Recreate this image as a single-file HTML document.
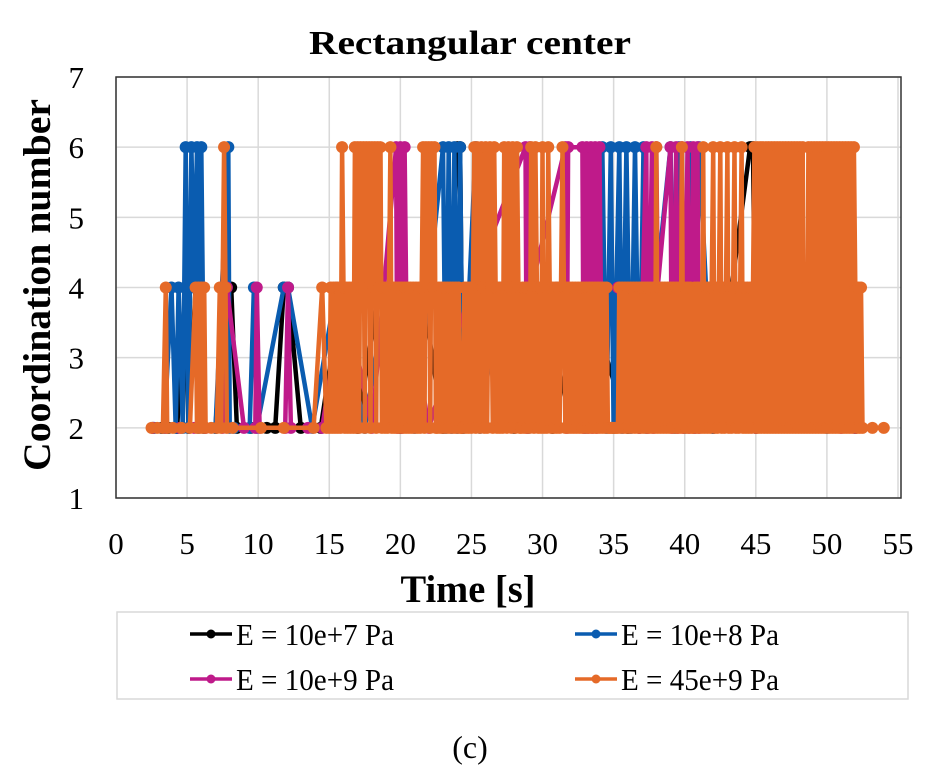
<!DOCTYPE html>
<html><head><meta charset="utf-8"><style>
html,body{margin:0;padding:0;background:#fff;}
svg{display:block;font-family:"Liberation Serif",serif;}
</style></head><body>
<svg id="chart" width="939" height="779" viewBox="0 0 939 779" xmlns="http://www.w3.org/2000/svg">
<text x="470" y="54" text-anchor="middle" font-size="34" font-weight="bold" textLength="322" lengthAdjust="spacingAndGlyphs">Rectangular center</text>
<g id="grid"></g>
<g id="series"></g>
<rect x="116" y="77" width="785" height="421" fill="none" stroke="#333" stroke-width="1.5"/>
<g id="ticks"></g>
<text transform="translate(50,285) rotate(-90)" text-anchor="middle" font-size="39" font-weight="bold" textLength="372" lengthAdjust="spacingAndGlyphs">Coordination number</text>
<text x="468" y="602" text-anchor="middle" font-size="39" font-weight="bold" textLength="135" lengthAdjust="spacingAndGlyphs">Time [s]</text>
<rect x="117" y="612" width="791" height="87" fill="#fff" stroke="#d9d9d9" stroke-width="1.5"/>
<g id="legend"></g>
<text x="470" y="758" text-anchor="middle" font-size="32">(c)</text>
</svg>
<script>
const xTicks = [0,5,10,15,20,25,30,35,40,45,50,55];
const yTicks = [1,2,3,4,5,6,7];
const seriesNames = ["E = 10e+7 Pa","E = 10e+8 Pa","E = 10e+9 Pa","E = 45e+9 Pa"];
const seriesColors = ["#000000","#0a5cb0","#bf1a8a","#e56a28"];
const blackData = [[2.6,2],[3.2,2],[3.7,2],[4.3,2],[4.9,4],[5.1,2],[5.6,4],[6.2,2],[7.0,2],[7.6,4],[8.1,4],[8.5,2],[9.5,2],[10.6,2],[11.2,2],[11.8,4],[12.1,4],[13.0,2],[14.4,2],[15.9,4],[17.0,2],[18.5,4],[20.0,2],[21.5,4],[23.0,2],[24.0,6],[24.2,6],[24.4,2],[26.0,4],[28.0,2],[30.5,4],[30.7,2],[33.0,4],[36.0,2],[39.0,4],[41.7,4],[42.0,2],[44.6,6],[44.8,6],[45.0,2],[48.0,4],[52.0,2]];
const blueData = [[2.7,2],[3.4,2],[3.9,4],[4.2,2],[4.4,4],[4.7,2],[4.9,6],[5.1,2],[5.3,6],[5.5,4],[5.7,6],[5.8,2],[6.0,6],[6.2,2],[7.0,2],[7.9,6],[8.0,2],[8.3,2],[9.4,2],[9.7,4],[9.9,2],[11.8,4],[12.1,4],[13.8,2],[15.5,4],[17.5,2],[19.0,4],[21.0,2],[23.0,6],[23.2,2],[23.4,6],[23.6,2],[23.8,6],[24.0,2],[24.2,6],[24.4,2],[25.3,6],[25.6,2],[27.0,4],[29.0,2],[31.0,4],[33.0,2],[34.2,6],[34.5,2],[34.8,6],[35.0,2],[35.4,6],[35.6,2],[35.9,6],[36.2,2],[36.5,6],[36.8,2],[37.1,6],[37.3,2],[38.0,4],[39.0,6],[39.3,2],[39.6,6],[40.0,2],[40.4,6],[40.7,2],[41.0,6],[42.0,2],[46.0,4],[50.0,2],[52.0,2]];
const magentaData = [[2.6,2],[3.5,2],[4.5,2],[5.5,2],[6.3,2],[7.5,2],[7.8,4],[9.0,2],[9.8,2],[9.9,4],[10.1,2],[11.9,2],[12.1,4],[12.3,2],[13.5,2],[14.5,2],[16.0,4],[18.0,2],[19.7,6],[19.8,2],[20.0,6],[20.1,2],[20.3,6],[20.4,4],[22.0,2],[25.0,4],[28.8,6],[28.9,2],[29.1,6],[29.2,4],[31.6,6],[31.7,2],[31.8,6],[32.8,6],[32.9,2],[33.1,6],[33.2,2],[33.4,6],[33.5,2],[33.7,6],[33.8,2],[34.0,6],[34.1,4],[35.3,4],[36.8,2],[37.3,6],[37.4,2],[37.7,6],[37.8,2],[38.0,6],[38.1,4],[39.0,6],[39.1,2],[39.4,6],[39.5,2],[39.8,6],[39.9,2],[40.2,6],[40.3,2],[40.6,6],[40.7,2],[40.9,6],[41.0,2],[45.0,2],[51.0,2],[52.0,2]];
const orangeEarly = [[2.5,2],[2.9,2],[3.3,2],[3.5,4],[3.6,2],[4.0,2],[4.6,2],[5.2,2],[5.6,4],[5.7,2],[5.8,4],[5.9,2],[6.0,4],[6.1,2],[6.2,4],[6.3,2],[6.7,2],[7.1,2],[7.3,4],[7.4,2],[7.5,4],[7.6,6],[7.7,4],[7.8,2],[8.2,2],[10.2,2],[11.8,2],[13.9,2],[14.5,4],[14.8,2]];
// dense part sampled every 0.1 s starting at 15.0 s
const orangeDenseStart = 15.0;
const orangeDenseStep = 0.1;
const orangeDenseValues = [
2,4,2,4,2,4,2,4,2,6, 4,2,4,2,4,2,4,2,6,2, 6,2,6,4,6,2,6,4,6,2, 6,4,6,2,6,4,6,2,4,2, 4,2,4,6,2,4,2,4,2,4,
2,4,2,4,2,4,2,4,2,4, 2,4,2,4,2,4,6,2,6,4, 6,2,6,4,6,2,2,4,2,4, 2,4,2,4,2,4,2,4,2,4, 2,4,2,2,2,4,2,4,2,4,
2,4,6,2,6,4,2,6,4,2, 6,2,4,6,4,2,6,4,2,4, 2,4,2,6,4,2,6,4,2,6, 4,2,6,4,2,2,4,2,4,2, 4,2,6,4,2,6,4,2,4,2,
6,2,4,2,6,4,2,4,2,4, 2,4,2,4,6,4,2,4,2,4, 2,4,2,4,2,4,2,4,2,4, 2,4,2,4,2,4,2,4,2,4, 2,4,2,4,2,4,2,2,2,2,
2,2,2,2,4,2,4,2,4,2, 4,2,4,2,4,2,4,2,4,2, 4,2,4,2,4,2,4,2,4,2, 6,2,4,2,4,2,4,2,4,2, 4,2,4,2,4,2,4,2,6,2,
4,2,4,2,4,2,2,4,2,4, 2,4,2,6,2,4,2,4,2,4, 6,2,4,2,4,6,2,4,2,4, 6,2,4,2,4,6,2,4,2,4, 6,2,4,2,4,2,4,2,4,6,
2,6,2,6,2,6,2,6,2,6, 2,6,2,6,2,6,2,6,2,6, 2,6,2,6,2,6,2,6,2,6, 2,6,2,6,2,4,2,6,2,6, 2,6,2,6,2,6,2,6,2,6,
2,6,2,6,2,6,2,6,2,6, 2,6,2,6,2,6,2,6,2,6, 4,2,4,2,4,2];
const orangeLate = [[53.2,2],[54.0,2]];

const NS = "http://www.w3.org/2000/svg";
const X0 = 116, X1 = 898, Y0 = 498, Y1 = 77;
const xMin = 0, xMax = 55, yMin = 1, yMax = 7;
function xs(v){ return X0 + (v - xMin) / (xMax - xMin) * (X1 - X0); }
function ys(v){ return Y0 - (v - yMin) / (yMax - yMin) * (Y0 - Y1); }
function mk(tag, attrs, parent){
  const e = document.createElementNS(NS, tag);
  for (const k in attrs) e.setAttribute(k, attrs[k]);
  parent.appendChild(e);
  return e;
}
const orangeData = orangeEarly
  .concat(orangeDenseValues.map((v, i) => [orangeDenseStart + i * orangeDenseStep, v]))
  .concat(orangeLate);
const allSeries = [blackData, blueData, magentaData, orangeData];

const grid = document.getElementById('grid');
const ticks = document.getElementById('ticks');
xTicks.forEach(t => {
  const l = mk('line', {x1: xs(t), x2: xs(t), y1: Y1, y2: Y0, stroke: '#d9d9d9', 'stroke-width': 1.5}, grid);
  
  
  const tx = mk('text', {x: xs(t), y: 554, 'text-anchor': 'middle', 'font-size': 31}, ticks);
  tx.textContent = t;
  
  
});
yTicks.forEach(t => {
  const l = mk('line', {x1: X0, x2: 901, y1: ys(t), y2: ys(t), stroke: '#d9d9d9', 'stroke-width': 1.5}, grid);
  
  
  const tx = mk('text', {x: 84, y: ys(t) + 11, 'text-anchor': 'end', 'font-size': 31}, ticks);
  tx.textContent = t;
  
  
});
const sg = document.getElementById('series');
allSeries.forEach((data, i) => {
  const g = mk('g', {}, sg);
  
  
  const pts = data.map(d => xs(d[0]).toFixed(1) + ',' + ys(d[1]).toFixed(1)).join(' ');
  const pl = mk('polyline', {points: pts, fill: 'none', stroke: seriesColors[i], 'stroke-width': 4.5, 'stroke-linejoin': 'round'}, g);
  
  
  data.forEach(d => {
    const c = mk('circle', {cx: xs(d[0]), cy: ys(d[1]), r: 6, fill: seriesColors[i]}, g);
    
    
  });
});
const lg = document.getElementById('legend');
const legendPos = [[190, 634], [575, 634], [190, 679], [575, 679]];
seriesNames.forEach((n, i) => {
  const g = mk('g', {}, lg);
  
  
  const p = legendPos[i];
  mk('line', {x1: p[0], x2: p[0] + 42, y1: p[1], y2: p[1], stroke: seriesColors[i], 'stroke-width': 3.5}, g);
  mk('circle', {cx: p[0] + 21, cy: p[1], r: 4.5, fill: seriesColors[i]}, g);
  const t = mk('text', {x: p[0] + 46, y: p[1] + 11, 'font-size': 31, textLength: 158, lengthAdjust: 'spacingAndGlyphs'}, g);
  t.textContent = n;
});
</script>
</body></html>
